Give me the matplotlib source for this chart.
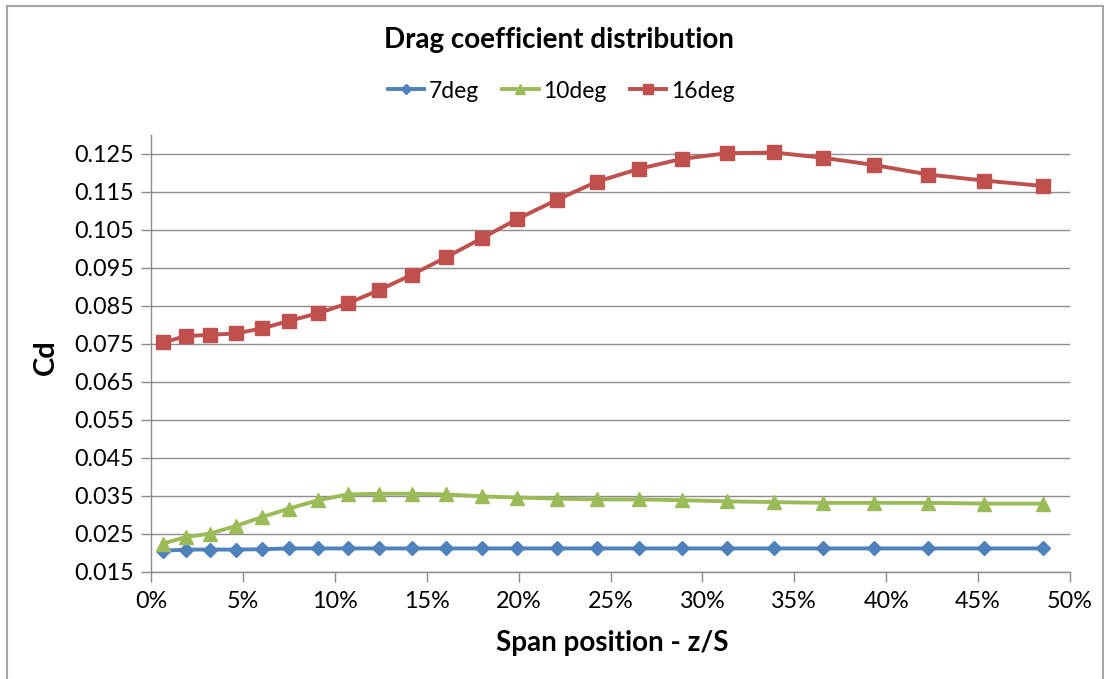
import matplotlib
matplotlib.use("Agg")
import matplotlib.pyplot as plt
from matplotlib.patches import Rectangle
from matplotlib.ticker import FuncFormatter, MultipleLocator

span = [0.67, 1.90, 3.21, 4.61, 6.06, 7.52, 9.10, 10.70, 12.42, 14.18, 16.05, 17.99,
        19.93, 22.07, 24.25, 26.55, 28.87, 31.32, 33.90, 36.58, 39.35, 42.29, 45.34, 48.51]

cd_7deg = [0.0206, 0.0209, 0.0209, 0.0209, 0.0210, 0.0212, 0.0212, 0.0212, 0.0212, 0.0212,
           0.0212, 0.0212, 0.0212, 0.0212, 0.0212, 0.0212, 0.0212, 0.0212, 0.0212, 0.0212,
           0.0212, 0.0212, 0.0212, 0.0212]
cd_10deg = [0.0225, 0.0242, 0.0251, 0.0271, 0.0295, 0.0317, 0.0339, 0.0354, 0.0356, 0.0356,
            0.0354, 0.0349, 0.0346, 0.0343, 0.0341, 0.0341, 0.0339, 0.0336, 0.0334, 0.0332,
            0.0332, 0.0332, 0.0330, 0.0330]
cd_16deg = [0.0754, 0.0771, 0.0774, 0.0778, 0.0791, 0.0811, 0.0831, 0.0857, 0.0892, 0.0932,
            0.0978, 0.1028, 0.1079, 0.1129, 0.1177, 0.1211, 0.1237, 0.1252, 0.1254, 0.1240,
            0.1221, 0.1196, 0.1180, 0.1166]

series_names = ["7deg", "10deg", "16deg"]
colors = ["#4F81BD", "#9BBB59", "#C0504D"]
markers = ["D", "^", "s"]
msizes = [7.5, 9.5, 9.5]

plt.rcParams['font.family'] = ['Lato', 'DejaVu Sans']

W, H = 1104, 679
fig = plt.figure(figsize=(W / 100, H / 100), dpi=100)
ax = fig.add_axes([151 / W, (H - 572) / H, (1070 - 151) / W, (572 - 135) / H])

for vals, name, c, m, ms in zip([cd_7deg, cd_10deg, cd_16deg], series_names, colors, markers, msizes):
    ax.plot(span, vals, color=c, lw=2.8, marker=m, markersize=ms, label=name,
            markeredgecolor=c, solid_joinstyle='round', zorder=3)

ax.set_xlim(0, 50)
ax.set_ylim(0.015, 0.130)
ax.xaxis.set_major_locator(MultipleLocator(5))
ax.set_yticks([0.015 + 0.01 * i for i in range(12)])
ax.xaxis.set_major_formatter(FuncFormatter(lambda v, p: f"{v:.0f}%"))
ax.yaxis.set_major_formatter(FuncFormatter(lambda v, p: f"{v:.3f}"))
ax.grid(axis='y', color='#8C8C8C', lw=1.0)
ax.set_axisbelow(True)
for s in ['top', 'right']:
    ax.spines[s].set_visible(False)
for s in ['left', 'bottom']:
    ax.spines[s].set_color('#8C8C8C')
    ax.spines[s].set_linewidth(1.0)
ax.tick_params(axis='both', colors='#8C8C8C', length=7, width=1.0, labelcolor='black',
               labelsize=16.8)
ax.tick_params(axis='x', pad=7)
ax.tick_params(axis='y', pad=5)

fig.text(559 / W, 1 - 40 / H, "Drag coefficient distribution", ha='center', va='center',
         fontsize=20, fontweight='bold')
fig.text(612 / W, 1 - 643 / H, "Span position - z/S", ha='center', va='center',
         fontsize=20, fontweight='bold')
fig.text(46 / W, 1 - 357 / H, "Cd", ha='center', va='center', rotation=90,
         fontsize=21, fontweight='bold')

leg = fig.legend(loc='center', bbox_to_anchor=(561 / W, 1 - 91 / H), ncol=3, frameon=False,
                 fontsize=16.5, handlelength=1.6, columnspacing=1.0, handletextpad=0.2,
                 markerscale=0.7)

fig.patches.append(Rectangle((7 / W, -0.01), (1103 - 7) / W, 1 - 6 / H + 0.01,
                             transform=fig.transFigure, fill=False, edgecolor='#A6A6A6',
                             lw=1.5))

fig.savefig("out.png", dpi=100, facecolor='white')
